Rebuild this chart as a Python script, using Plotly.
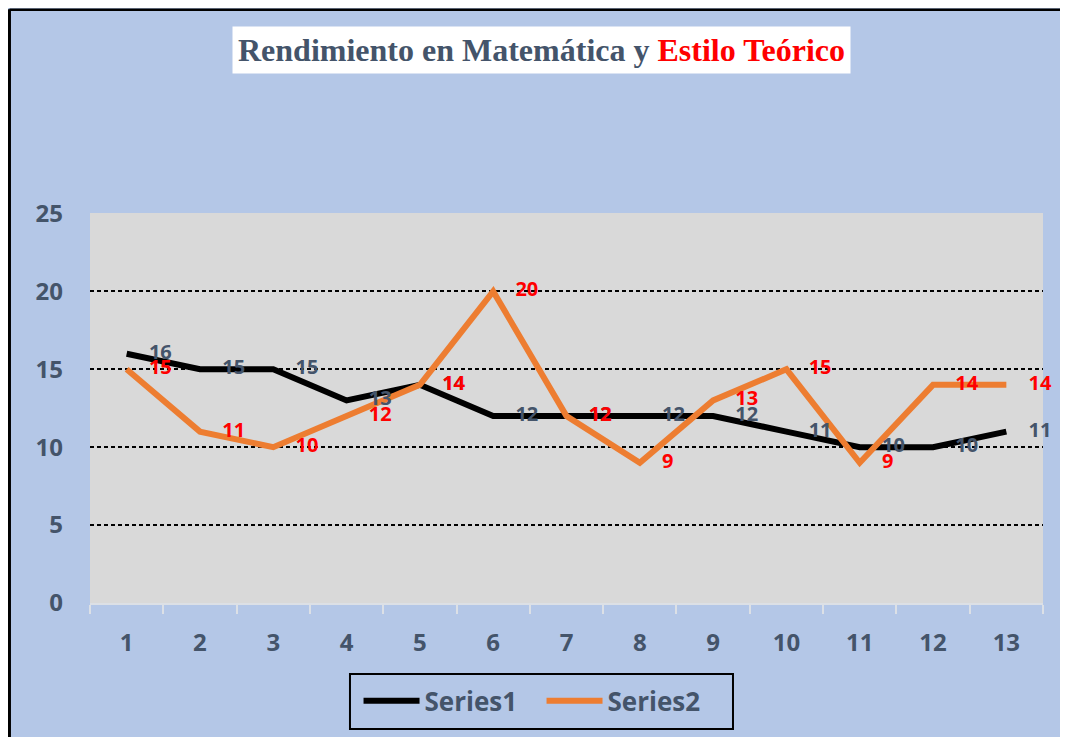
import plotly.graph_objects as go

categories = ["1", "2", "3", "4", "5", "6", "7", "8", "9", "10", "11", "12", "13"]
series1 = [16, 15, 15, 13, 14, 12, 12, 12, 12, 11, 10, 10, 11]
series2 = [15, 11, 10, 12, 14, 20, 12, 9, 13, 15, 9, 14, 14]
y_ticks = [0, 5, 10, 15, 20, 25]

TXT = "#44546A"
FONT = "Open Sans"

fig = go.Figure()
fig.add_trace(go.Scatter(
    x=categories, y=series1, name="Series1", mode="lines",
    line=dict(color="black", width=6), hoverinfo="skip",
))
fig.add_trace(go.Scatter(
    x=categories, y=series2, name="Series2", mode="lines",
    line=dict(color="#ED7D31", width=6), hoverinfo="skip",
))
# data labels
fig.add_trace(go.Scatter(
    x=categories, y=series1, mode="markers+text", showlegend=False,
    marker=dict(size=34, opacity=0), hoverinfo="skip",
    text=[f"<b>{v}</b>" for v in series1], textposition="middle right",
    textfont=dict(family=FONT, size=20, color=TXT),
    cliponaxis=False,
))
fig.add_trace(go.Scatter(
    x=categories, y=series2, mode="markers+text", showlegend=False,
    marker=dict(size=34, opacity=0), hoverinfo="skip",
    text=[f"<b>{v}</b>" for v in series2], textposition="middle right",
    textfont=dict(family=FONT, size=20, color="red"),
    cliponaxis=False,
))

fig.update_layout(
    width=1060, height=729,
    margin=dict(l=82, r=25, t=205, b=134, autoexpand=False),
    paper_bgcolor="#B4C7E7",
    plot_bgcolor="#D9D9D9",
    showlegend=True,
    legend=dict(
        orientation="h", x=0.4738, xanchor="center", y=-0.251, yanchor="middle",
        borderwidth=0, bgcolor="rgba(0,0,0,0)",
        font=dict(family=FONT, size=26, color=TXT, weight="bold"),
        itemwidth=56, entrywidth=112,
    ),
    xaxis=dict(
        type="category", range=[-0.5, 12.5], tickson="boundaries", ticks="outside", ticklen=9,
        tickcolor="#DCE0E6", tickwidth=2, showline=True, linecolor="#DCE0E6", linewidth=2,
        showgrid=False, tickfont=dict(family=FONT, size=24, color=TXT, weight="bold"),
        ticklabelstandoff=17,
    ),
    yaxis=dict(
        range=[0, 25.03], tickvals=y_ticks, showgrid=True, gridcolor="black", gridwidth=2,
        griddash="4px,3px", zeroline=False, showline=False,
        tickfont=dict(family=FONT, size=24, color=TXT, weight="bold"),
        ticklabelstandoff=26,
    ),
    shapes=[
        dict(type="line", xref="paper", yref="paper",
             x0=-0.0845, x1=-0.0845, y0=-0.4, y1=1.5225,
             line=dict(color="black", width=3), layer="above"),
        dict(type="line", xref="paper", yref="paper",
             x0=-0.0845, x1=1.1, y0=1.521, y1=1.521,
             line=dict(color="black", width=2.5), layer="above"),
        dict(type="rect", xref="paper", yref="paper",
             x0=0.2728, x1=0.6747, y0=-0.323, y1=-0.182,
             line=dict(color="black", width=2), layer="above"),
    ],
    annotations=[dict(
        xref="paper", yref="paper", x=0.474, y=1.418, xanchor="center", yanchor="middle",
        showarrow=False, bgcolor="white", borderpad=5,
        text="<b><span style='color:#44546A'>Rendimiento en Matemática y </span>"
             "<span style='color:red'>Estilo Teórico</span></b>",
        font=dict(family="Liberation Serif", size=32),
    )],
)

fig.write_html("out.html")
